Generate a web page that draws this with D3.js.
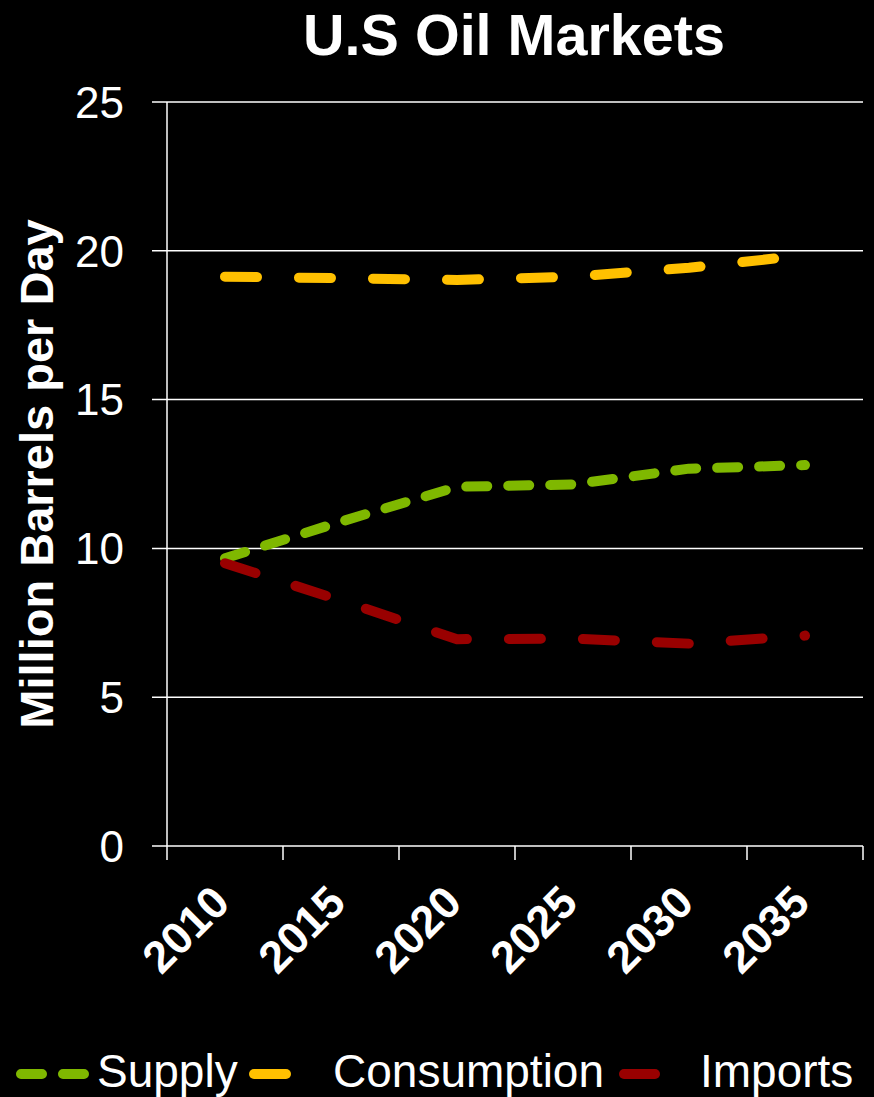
<!DOCTYPE html>
<html><head><meta charset="utf-8">
<script src="https://cdn.jsdelivr.net/npm/d3@7"></script>
<style>html,body{margin:0;padding:0;background:#000;}svg{display:block;}</style>
</head><body>
<svg id="chart" width="874" height="1097"></svg>
<script>
const categories = ["2010","2015","2020","2025","2030","2035"];
const supply      = [9.67, 10.9, 12.07, 12.15, 12.68, 12.8];
const consumption = [19.13, 19.08, 19.02, 19.13, 19.43, 19.85];
const imports     = [9.5, 8.25, 6.95, 6.97, 6.8, 7.07];
const yTicks = [0,5,10,15,20,25];
const seriesNames = ["Supply","Consumption","Imports"];
const seriesColors = ["#7FB800","#FFC000","#990000"];
const seriesDash = ["21,21","32,42","32,42"];
const seriesValues = [supply, consumption, imports];

const svg = d3.select("#chart");
svg.append("rect").attr("width",874).attr("height",1097).attr("fill","#000");

const pLeft=167, pRight=863, pTop=102, pBottom=846;
const x = d3.scaleBand().domain(categories).range([pLeft,pRight]).padding(0);
const y = d3.scaleLinear().domain([0,25]).range([pBottom,pTop]);

// gridlines
svg.append("g").selectAll("line").data(yTicks).join("line")
  .attr("x1",152).attr("x2",pRight)
  .attr("y1",d=>y(d)).attr("y2",d=>y(d))
  .attr("stroke","#fff").attr("stroke-width",1.5);

// y axis line
svg.append("line").attr("x1",pLeft).attr("x2",pLeft).attr("y1",pTop).attr("y2",pBottom)
  .attr("stroke","#fff").attr("stroke-width",1.5);

// y tick labels
svg.append("g").selectAll("text").data(yTicks).join("text")
  .attr("x",124).attr("y",d=>y(d)).attr("dy","0.36em")
  .attr("text-anchor","end").attr("fill","#fff")
  .attr("font-family","'Liberation Sans', Arial, sans-serif").attr("font-size",44)
  .text(d=>d);

// x ticks at band boundaries
const bounds = categories.map(c=>x(c)).concat([pRight]);
svg.append("g").selectAll("line").data(bounds).join("line")
  .attr("x1",d=>d).attr("x2",d=>d).attr("y1",pBottom).attr("y2",pBottom+14)
  .attr("stroke","#fff").attr("stroke-width",1.5);

// x labels
svg.append("g").selectAll("text").data(categories).join("text")
  .attr("transform",d=>`translate(${x(d)+x.bandwidth()/2+7},${pBottom+59}) rotate(-45)`)
  .attr("text-anchor","end").attr("fill","#fff")
  .attr("font-family","'Liberation Sans', Arial, sans-serif").attr("font-weight","bold").attr("font-size",45)
  .text(d=>d);

// lines
const line = d3.line().x((d,i)=>x(categories[i])+x.bandwidth()/2).y(d=>y(d));
seriesValues.forEach((vals,k)=>{
  svg.append("path").datum(vals).attr("d",line)
    .attr("fill","none").attr("stroke",seriesColors[k]).attr("stroke-width",10)
    .attr("stroke-linecap","round").attr("stroke-linejoin","round")
    .attr("stroke-dasharray",seriesDash[k]);
});

// title
svg.append("text").attr("x",514).attr("y",55).attr("text-anchor","middle")
  .attr("fill","#fff").attr("font-family","'Liberation Sans', Arial, sans-serif")
  .attr("font-weight","bold").attr("font-size",57.5).text("U.S Oil Markets");

// y title
svg.append("text").attr("transform","translate(53,474) rotate(-90)").attr("text-anchor","middle")
  .attr("fill","#fff").attr("font-family","'Liberation Sans', Arial, sans-serif")
  .attr("font-weight","bold").attr("font-size",47).text("Million Barrels per Day");

// legend
const legY = 1074, legBase = 1087;
const legSym = [[21,84],[254,286],[624,655]];
const legText = [97,333,700];
seriesNames.forEach((n,k)=>{
  svg.append("line").attr("x1",legSym[k][0]).attr("x2",legSym[k][1]).attr("y1",legY).attr("y2",legY)
    .attr("stroke",seriesColors[k]).attr("stroke-width",10).attr("stroke-linecap","round")
    .attr("stroke-dasharray",k===0?"21,21":null);
  svg.append("text").attr("x",legText[k]).attr("y",legBase).attr("fill","#fff")
    .attr("font-family","'Liberation Sans', Arial, sans-serif").attr("font-size",46).text(n);
});
</script>
</body></html>
